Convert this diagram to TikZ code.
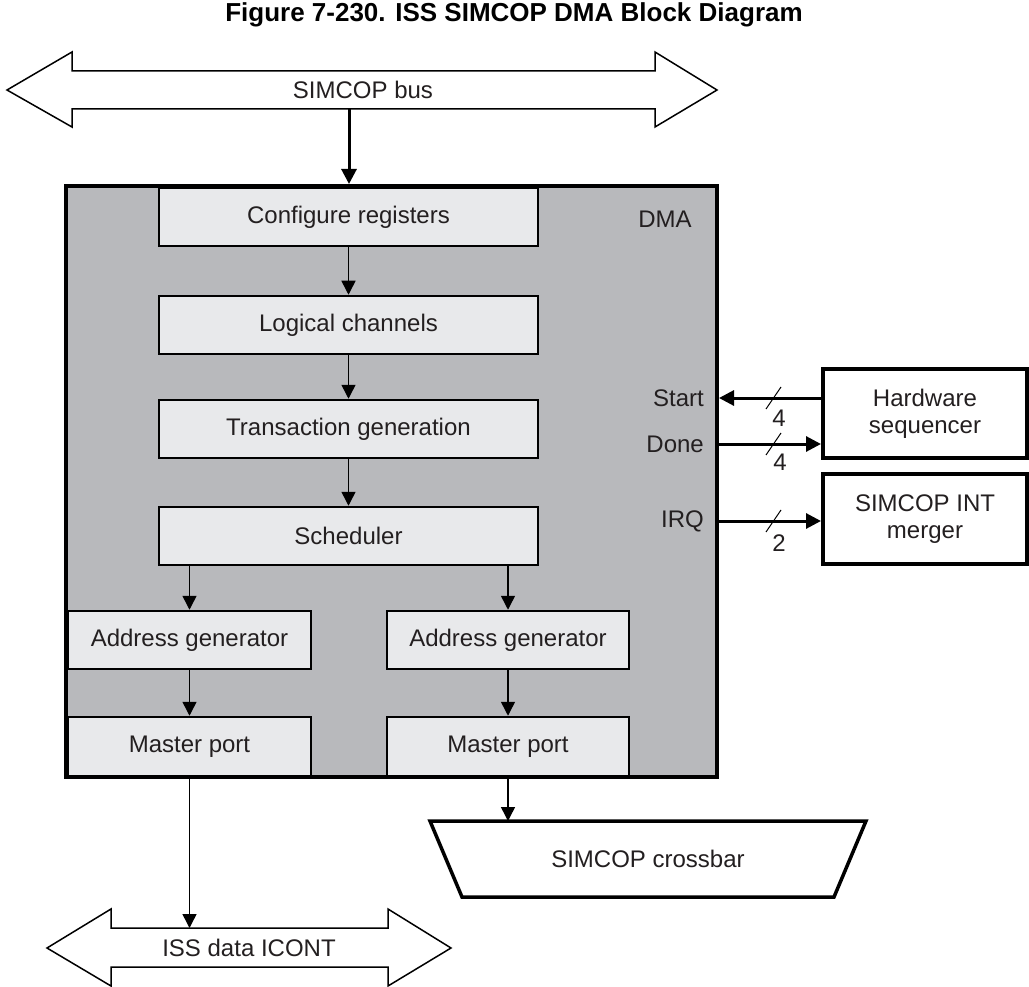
\documentclass[tikz,border=0pt]{standalone}
\usepackage{fontspec}
\setmainfont{Liberation Sans}
\usetikzlibrary{arrows.meta}
\definecolor{dmagray}{HTML}{B8B9BC}
\definecolor{boxgray}{HTML}{E8E9EB}
\definecolor{txt}{HTML}{231F20}
\begin{document}
\begin{tikzpicture}[x=1pt,y=-1pt,
  font=\fontsize{24}{27}\selectfont, text=txt,
  blk/.style={draw=black, line width=2.5pt, fill=boxgray, minimum height=58pt, inner sep=0pt, anchor=center},
  extbox/.style={draw=black, line width=4pt, fill=white, minimum width=204pt, inner sep=0pt, align=center},
  thinarrow/.style={line width=1.5pt, -{Triangle[length=14pt,width=14pt]}},
  thickarrow/.style={line width=3pt, -{Triangle[length=15pt,width=15pt]}},
  busshape/.style={draw=black, line width=1.5pt, fill=white, line join=miter},
  slash/.style={line width=1pt},
  lbl/.style={inner sep=0pt}
]
\useasboundingbox (0,0) rectangle (1029,987);

% title
\node[font=\fontsize{26}{30}\selectfont\bfseries, text=black] (title) at (514,15) {Figure 7-230. ISS SIMCOP DMA Block Diagram};

% SIMCOP bus
\draw[busshape] (7,90) -- (72,52) -- (72,71) -- (655,71) -- (655,52) -- (717,90)
  -- (655,127) -- (655,109) -- (72,109) -- (72,127) -- cycle;
\node (bus) at (363,90) {SIMCOP bus};
\coordinate (busB) at (349,109);

% DMA block
\node[draw=black, line width=4pt, fill=dmagray, minimum width=651pt, minimum height=591pt, inner sep=0pt] (dma) at (391.5,481.5) {};
\node (dmalbl) at (665,219) {DMA};

\node[blk, minimum width=379pt] (cr) at (348.5,217) {Configure registers};
\node[blk, minimum width=379pt] (lc) at (348.5,325) {Logical channels};
\node[blk, minimum width=379pt] (tg) at (348.5,429) {Transaction generation};
\node[blk, minimum width=379pt] (sch) at (348.5,536) {Scheduler};
\node[blk, minimum width=243pt] (ag1) at (189.5,640) {Address generator};
\node[blk, minimum width=242pt] (ag2) at (508,640) {Address generator};
\node[blk, minimum width=243pt, minimum height=59pt] (mp1) at (189.5,746.5) {Master port};
\node[blk, minimum width=242pt, minimum height=59pt] (mp2) at (508,746.5) {Master port};

\draw[thickarrow] (busB) -- (busB |- dma.north);
\draw[thinarrow] (cr.south) -- (lc.north);
\draw[thinarrow] (lc.south) -- (tg.north);
\draw[thinarrow] (tg.south) -- (sch.north);
\draw[thinarrow] (sch.south -| ag1.north) -- (ag1.north);
\draw[thinarrow] (sch.south -| ag2.north) -- (ag2.north);
\draw[thinarrow] (ag1.south) -- (mp1.north);
\draw[thinarrow] (ag2.south) -- (mp2.north);

% external blocks
\node[extbox, minimum height=89pt] (hw) at (925,413.5) {Hardware\\sequencer};
\node[extbox, minimum height=90pt] (int) at (925,519) {SIMCOP INT\\merger};

\coordinate (yS) at (0,398);
\coordinate (yD) at (0,444);
\coordinate (yI) at (0,521);
\draw[thickarrow] (hw.west |- yS) -- (dma.east |- yS);
\draw[thickarrow] (dma.east |- yD) -- (hw.west |- yD);
\draw[thickarrow] (dma.east |- yI) -- (int.west |- yI);

\node[lbl, anchor=east] (start) at (704,398) {Start};
\node[lbl, anchor=east] (done) at (704,444) {Done};
\node[lbl, anchor=east] (irq) at (704,521) {IRQ};

\draw[slash] (766,409) -- (781,387);
\draw[slash] (766,455) -- (781,433);
\draw[slash] (766,532) -- (781,510);
\node[lbl] (n4a) at (779,418) {4};
\node[lbl] (n4b) at (780,462) {4};
\node[lbl] (n2) at (779,543) {2};

% SIMCOP crossbar
\draw[draw=black, line width=3.5pt, fill=white, line join=miter] (430,821) -- (866,821) -- (834,897) -- (462,897) -- cycle;
\node (xbar) at (648,859) {SIMCOP crossbar};
\coordinate (xbarT) at (508,821);
\draw[thinarrow] (mp2.south) -- (mp2.south |- xbarT);

% ISS data ICONT
\draw[busshape] (47,948) -- (111,909) -- (111,928) -- (388,928) -- (388,909) -- (451,948)
  -- (388,986) -- (388,967) -- (111,967) -- (111,986) -- cycle;
\node (iss) at (249,948) {ISS data ICONT};
\coordinate (issT) at (189,928);
\draw[thinarrow] (mp1.south) -- (mp1.south |- issT);
\end{tikzpicture}
\end{document}
